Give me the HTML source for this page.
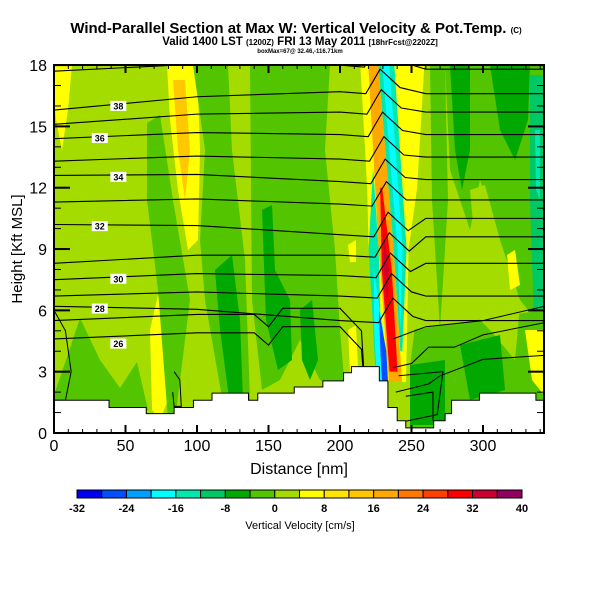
<!DOCTYPE html>
<html><head><meta charset="utf-8"><style>
body{margin:0;background:#fff;}
svg text{font-family:"Liberation Sans",sans-serif;}
</style></head><body>
<svg id="c" width="600" height="600" xmlns="http://www.w3.org/2000/svg">
<text x="296" y="33" text-anchor="middle" font-size="15" font-weight="bold">Wind-Parallel Section at Max W: Vertical Velocity &amp; Pot.Temp. <tspan font-size="8">(C)</tspan></text>
<text x="300" y="45" text-anchor="middle" font-size="11.5" font-weight="bold">Valid 1400 LST <tspan font-size="8">(1200Z)</tspan> FRI 13 May 2011 <tspan font-size="8">[18hrFcst@2202Z]</tspan></text>
<text x="300" y="53" text-anchor="middle" font-size="6" font-weight="bold">boxMax=67@ 32.46,-116.71km</text>
<defs><clipPath id="pc"><rect x="54" y="65" width="490" height="368"/></clipPath></defs>
<g id="field" clip-path="url(#pc)"></g>
<g id="axes"></g>
<g id="cbar"></g>
</svg>
<script>
// ---- data ----
const binEdges=[-32,-28,-24,-20,-16,-12,-8,-4,0,4,8,12,16,20,24,28,32,36,40];
const binColors=["#0000f0","#0050ff","#00a0ff","#00ffff","#00e8b0","#00c864","#00a800","#52c400","#a4dc00","#ffff00","#ffe400","#ffc800","#ffa800","#ff7800","#ff4000","#ff0000","#cc0030","#900060"];
const xTicks=[0,50,100,150,200,250,300];
const yTicks=[0,3,6,9,12,15,18];
// terrain: step start distance (nm) and height (kft)
const terrainX=[0,38.5,64.5,84,97.5,110.5,136,142.5,168,188,202.5,208,227.5,233.5,240,246,265.5,273.5,278,297.5,337];
const terrainH=[1.6,1.25,0.95,1.25,1.6,1.95,1.6,1.95,2.25,2.55,2.95,3.25,2.55,1.25,0.6,0.25,0.6,0.95,1.6,1.95,1.6];
// potential temperature contours: height (kft) at left edge, at 200nm, at right edge
const thetaLevels=[340,338,337,336,335,334,333,332,331,330,329,328,327,326];
const thetaLeft=[17.7,15.8,15.1,14.4,13.3,12.6,11.3,10.2,8.3,7.5,6.7,6.2,5.5,4.6];
const thetaMid=[18.0,16.7,15.7,14.6,13.4,12.3,11.2,9.7,8.7,7.7,6.7,5.5,4.5,3.6];
const thetaRight=[17.8,16.6,15.7,14.6,13.5,12.4,11.4,10.5,9.6,8.3,6.7,5.5,4.5,3.7];
const thetaLabels=["","38","","36","","34","","32","","30","","28","","26"];
const SVGNS="http://www.w3.org/2000/svg";
const X=d=>54+d*1.43, Y=h=>433-h*20.44;
function col(v){for(let i=0;i<binColors.length;i++)if(v<binEdges[i+1])return binColors[i];return binColors[binColors.length-1];}
const field=document.getElementById('field');
function el(tag,attrs,parent){const e=document.createElementNS(SVGNS,tag);for(const k in attrs)e.setAttribute(k,attrs[k]);(parent||field).appendChild(e);return e;}
let bg=el('rect',{x:54,y:65,width:490,height:368,fill:col(2)});


// background patches (decorative field shapes, pixel outlines): [value, points]
const patches=[
[6,[[54,65],[72,65],[68,110],[62,150],[56,120],[54,100]]],
[-2,[[54,395],[66,360],[80,318],[100,360],[120,388],[137,362],[148,410],[54,410]]],
[6,[[150,330],[158,295],[166,330],[168,400],[160,420],[152,410]]],
[-2,[[147,123],[160,115],[173,200],[190,300],[175,420],[168,420],[158,290],[147,200]]],
[6,[[167,65],[197,65],[200,150],[198,240],[188,250],[178,190],[170,120]]],
[14,[[173,80],[185,80],[190,150],[185,200],[178,150]]],
[-2,[[193,65],[228,65],[232,150],[245,260],[250,400],[225,415],[205,300],[200,240],[205,150]]],
[-6,[[215,270],[232,255],[240,320],[243,400],[230,405],[220,330]]],
[-2,[[250,65],[330,65],[325,150],[335,250],[340,330],[345,390],[320,380],[300,340],[280,380],[262,390],[252,300]]],
[-6,[[262,210],[272,205],[275,270],[290,300],[292,360],[278,370],[266,320]]],
[-6,[[300,310],[312,300],[318,360],[310,380],[302,360]]],
[6,[[348,330],[356,325],[358,368],[350,372]]],
[6,[[348,245],[356,240],[356,262],[350,262]]],
[-2,[[430,65],[445,65],[448,200],[440,330],[432,200]]],
[-2,[[445,65],[544,65],[544,330],[520,300],[500,240],[480,180],[470,230],[450,170]]],
[-6,[[450,65],[470,65],[470,150],[462,190],[455,150]]],
[-6,[[490,65],[530,65],[528,120],[515,160],[500,130]]],
[2,[[470,190],[485,185],[500,240],[495,300],[480,300]]],
[6,[[507,255],[515,250],[520,285],[510,290]]],
[-10,[[530,75],[544,75],[544,330],[534,320],[530,200]]],
[-14,[[535,130],[540,130],[540,200],[536,190]]],
[-2,[[410,330],[544,310],[544,420],[410,430]]],
[2,[[470,310],[520,305],[515,360],[490,330]]],
[-6,[[410,365],[445,360],[445,425],[410,425]]],
[-6,[[460,345],[500,335],[505,390],[470,400]]],
[6,[[525,330],[544,330],[544,395],[532,380]]]
];
patches.forEach(p=>{
  const e=el('polygon',{points:p[1].map(q=>q.join(',')).join(' '),fill:col(p[0])});
  
  
});
// plume bands: value, heights (kft, top->bottom), left offsets (px), right offsets (px)
const plume=[
[2,[18,9,2.5],[-14,-16,-8],[50,40,16]],
[6,[18,12,9,2.5],[-14,-14,-16,-8],[50,36,24,14]],
[-14,[13,9,2.5],[-7,-16,-16],[-7,-6,-10]],
[-18,[8,5,2.5],[-12,-15,-15],[-12,-6,-6]],
[-26,[6,4,2.5],[-9,-10,-10],[-9,-4,-4]],
[18,[18,9,2.5],[-6,-6,-3],[4,9,10]],
[28,[12,8,3],[-1,-4,-2],[1,6,6]],
[34,[9.5,8,6.5],[-0.5,-2,-0.5],[0.5,3,0.5]],
[-14,[18,9,4],[4,9,10],[20,22,12]],
[-18,[18,9,5],[8,13,11],[15,18,11]]
];
const pcx=h=>X(224+(18-h)*0.8);
plume.forEach(b=>{
  const [v,hs,L,R]=b;
  const pts=[];
  hs.forEach((h,i)=>pts.push([pcx(h)+L[i],Y(h)]));
  for(let i=hs.length-1;i>=0;i--)pts.push([pcx(hs[i])+R[i],Y(hs[i])]);
  const e=el('polygon',{points:pts.map(q=>q.join(',')).join(' '),fill:col(v)});
  
  
});
// theta contours
thetaLevels.forEach((lv,i)=>{
  const hm=thetaMid[i];
  const sx=(pcx(hm)-54)/1.43+3;
  let pts;
  if(hm<5){
    pts=[[0,thetaLeft[i]],[100,(thetaLeft[i]+hm)/2+0.8],[140,hm+1.3],[150,hm+0.7],[160,hm+1.6],[200,hm+1.6],[215,hm+0.5],[218,1.5]];
  } else {
    pts=[[0,thetaLeft[i]],[100,(thetaLeft[i]+hm)/2+0.2],[200,hm],[sx-10,hm-0.1],[sx,hm+1.1],[sx+14,hm+0.2],[260,thetaRight[i]],[343,thetaRight[i]]];
  }
  const e=el('polyline',{points:pts.map(q=>X(q[0])+','+Y(q[1])).join(' '),fill:'none',stroke:'#000','stroke-width':1.1});
  
  
  if(thetaLabels[i]){
    const lxn=i%4==1?45:i%4==3?32:80;
    const lx=X(lxn), ly=Y(thetaLeft[i]+(hm-thetaLeft[i])*lxn/200);
    const r=el('rect',{x:lx-8,y:ly-5,width:16,height:10,fill:'#fff'});
    
    
    const t=el('text',{x:lx,y:ly+3.5,'text-anchor':'middle','font-size':9,'font-weight':'bold'});
    t.textContent=thetaLabels[i];
    
    
  }
});
// right-side lower contours
[[[237,4.6],[260,5.2],[300,5.5],[343,6.2]],[[237,3.2],[250,3.4],[262,4.2],[280,4.2],[300,4.8],[343,5.4]],[[239,2],[262,2.4],[270,2.8],[300,3.6],[343,3.8]]].forEach(c=>{
  const e=el('polyline',{points:c.map(q=>X(q[0])+','+Y(q[1])).join(' '),fill:'none',stroke:'#000','stroke-width':1});
  
  
});
// closed low contours
[[[0,6],[8,5],[12,3],[8,1.6],[0,1.6]],[[84,3],[88,2.6],[89,1.3],[84,1.3],[83,2]],[[241,2.8],[272,3],[268,0.9],[241,0.5]],[[246,1.8],[265,2],[265,0.6]]].forEach(c=>{
  const e=el('polyline',{points:c.map(q=>X(q[0])+','+Y(q[1])).join(' '),fill:'none',stroke:'#000','stroke-width':1});
  
  
});
// terrain
let tp=[[X(0),433]];
terrainX.forEach((x,i)=>{const nx=i+1<terrainX.length?terrainX[i+1]:343;tp.push([X(x),Y(terrainH[i])]);tp.push([X(nx),Y(terrainH[i])]);});
tp.push([X(343),433]);
const ter=el('polygon',{points:tp.map(p=>p.join(',')).join(' '),fill:'#fff',stroke:'#000','stroke-width':1});


// axes
const ax=document.getElementById('axes');
const fr=el('rect',{x:54,y:65,width:490,height:368,fill:'none',stroke:'#000','stroke-width':2},ax);


for(let d=0;d<=340;d+=10){const maj=d%50==0,len=maj?8:4;
  el('line',{x1:X(d),x2:X(d),y1:433,y2:433-len,stroke:'#000','stroke-width':maj?2:1},ax);
  el('line',{x1:X(d),x2:X(d),y1:65,y2:65+len,stroke:'#000','stroke-width':maj?2:1},ax);}
for(let h=0;h<=18;h++){const maj=h%3==0,len=maj?16:7;
  el('line',{x1:54,x2:54+len,y1:Y(h),y2:Y(h),stroke:'#000','stroke-width':maj?2:1},ax);
  el('line',{x1:544,x2:544-len,y1:Y(h),y2:Y(h),stroke:'#000','stroke-width':maj?2:1},ax);}
xTicks.forEach(v=>{const t=el('text',{x:X(v),y:451,'text-anchor':'middle','font-size':16},ax);t.textContent=v;
  
  });
yTicks.forEach(v=>{const t=el('text',{x:47,y:Y(v)+6,'text-anchor':'end','font-size':16},ax);t.textContent=v;
  
  });
let xt=el('text',{x:299,y:474,'text-anchor':'middle','font-size':16},ax);xt.textContent='Distance [nm]';


let yt=el('text',{x:22,y:249,'text-anchor':'middle','font-size':15,transform:'rotate(-90 22 249)'},ax);yt.textContent='Height [Kft MSL]';


// colorbar
const cb=document.getElementById('cbar');
const cw=445/binColors.length;
binColors.forEach((c,i)=>{const r=el('rect',{x:77+i*cw,y:490,width:cw,height:8,fill:c,stroke:'#000','stroke-width':1},cb);
  
  });
binEdges.forEach((v,i)=>{if(i%2)return;const t=el('text',{x:77+i*cw,y:512,'text-anchor':'middle','font-size':11,'font-weight':'bold'},cb);t.textContent=v;
  
  });
let ct=el('text',{x:300,y:529,'text-anchor':'middle','font-size':11},cb);ct.textContent='Vertical Velocity [cm/s]';


</script>
</body></html>
